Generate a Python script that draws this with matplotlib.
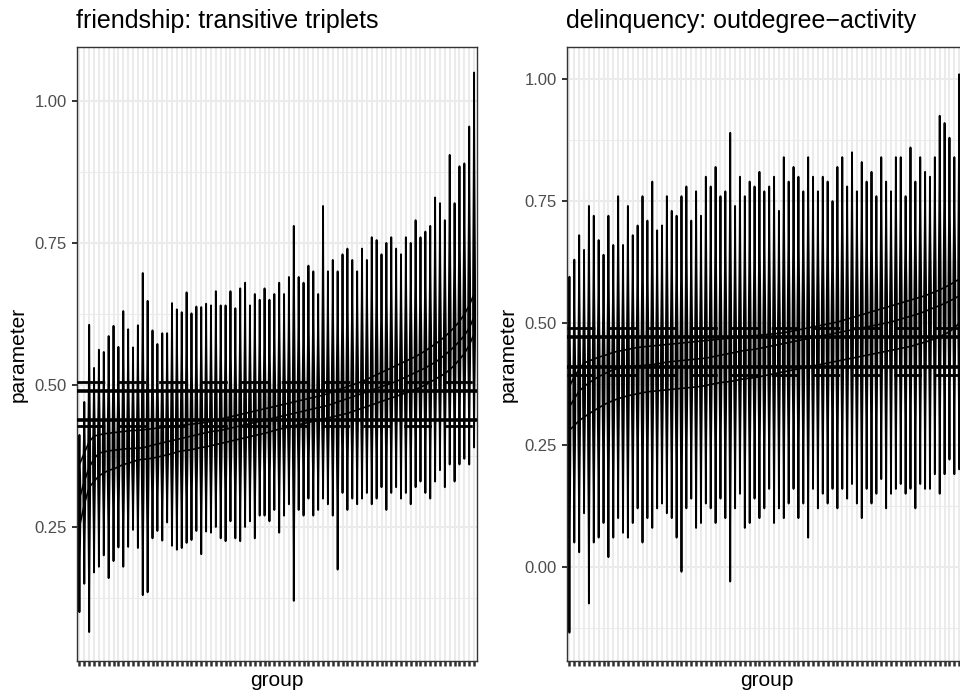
import numpy as np
import matplotlib
matplotlib.use("Agg")
import matplotlib.pyplot as plt
from matplotlib.ticker import FixedLocator, NullFormatter
from matplotlib.collections import PolyCollection

plt.rcParams['font.family'] = ['Liberation Sans', 'DejaVu Sans']

# ---------------- data ----------------
n_groups = 82
groups = list(range(n_groups))

fr_title = "friendship: transitive triplets"
fr_hi = [0.412, 0.47, 0.606, 0.53, 0.562, 0.558, 0.586, 0.604, 0.567, 0.630,
         0.598, 0.566, 0.605, 0.697, 0.648, 0.596, 0.572, 0.591, 0.591, 0.644,
         0.633, 0.628, 0.663, 0.626, 0.638, 0.637, 0.643, 0.64, 0.665, 0.64,
         0.64, 0.665, 0.635, 0.67, 0.68, 0.64, 0.66, 0.65, 0.67, 0.65,
         0.66, 0.68, 0.66, 0.69, 0.78, 0.69, 0.68, 0.71, 0.70, 0.66,
         0.815, 0.70, 0.72, 0.70, 0.73, 0.74, 0.72, 0.70, 0.74, 0.72,
         0.76, 0.755, 0.73, 0.75, 0.76, 0.74, 0.73, 0.76, 0.75, 0.79,
         0.76, 0.77, 0.78, 0.83, 0.82, 0.79, 0.905, 0.82, 0.885, 0.89,
         0.955, 1.05]
fr_lo = [0.10, 0.15, 0.065, 0.17, 0.18, 0.20, 0.16, 0.19, 0.214, 0.18,
         0.215, 0.245, 0.213, 0.13, 0.135, 0.23, 0.243, 0.226, 0.258, 0.217,
         0.21, 0.213, 0.222, 0.227, 0.243, 0.202, 0.242, 0.24, 0.25, 0.23,
         0.225, 0.26, 0.23, 0.225, 0.25, 0.26, 0.23, 0.27, 0.27, 0.26,
         0.28, 0.24, 0.27, 0.29, 0.12, 0.28, 0.27, 0.30, 0.27, 0.28,
         0.30, 0.29, 0.27, 0.175, 0.31, 0.28, 0.30, 0.29, 0.30, 0.31,
         0.29, 0.30, 0.32, 0.28, 0.31, 0.32, 0.30, 0.31, 0.29, 0.32,
         0.33, 0.31, 0.30, 0.33, 0.35, 0.32, 0.36, 0.33, 0.36, 0.37,
         0.36, 0.39]
fr_curve_a = [0.25, 0.29, 0.32, 0.33, 0.34, 0.345, 0.35, 0.352, 0.356, 0.36,
              0.362, 0.365, 0.368, 0.369, 0.37, 0.371, 0.373, 0.375, 0.377, 0.379,
              0.382, 0.384, 0.385, 0.386, 0.388, 0.39, 0.391, 0.393, 0.395, 0.397,
              0.399, 0.401, 0.403, 0.405, 0.407, 0.409, 0.411, 0.413, 0.415, 0.417,
              0.42, 0.422, 0.424, 0.426, 0.428, 0.43, 0.432, 0.434, 0.436, 0.438,
              0.44, 0.442, 0.444, 0.446, 0.448, 0.45, 0.453, 0.456, 0.459, 0.462,
              0.465, 0.468, 0.471, 0.474, 0.477, 0.48, 0.483, 0.486, 0.489, 0.492,
              0.496, 0.50, 0.505, 0.51, 0.515, 0.52, 0.527, 0.535, 0.545, 0.555,
              0.57, 0.59]
fr_mean = [0.30, 0.33, 0.355, 0.37, 0.38, 0.382, 0.384, 0.385, 0.386, 0.387,
           0.388, 0.388, 0.389, 0.389, 0.392, 0.394, 0.396, 0.398, 0.40, 0.402,
           0.404, 0.406, 0.408, 0.41, 0.412, 0.414, 0.416, 0.418, 0.419, 0.42,
           0.422, 0.424, 0.426, 0.428, 0.43, 0.432, 0.434, 0.436, 0.438, 0.44,
           0.442, 0.444, 0.446, 0.448, 0.45, 0.452, 0.454, 0.456, 0.458, 0.46,
           0.462, 0.464, 0.467, 0.47, 0.473, 0.476, 0.479, 0.482, 0.485, 0.488,
           0.491, 0.494, 0.497, 0.50, 0.503, 0.506, 0.51, 0.514, 0.518, 0.522,
           0.526, 0.53, 0.535, 0.54, 0.546, 0.553, 0.56, 0.568, 0.577, 0.587,
           0.60, 0.62]
fr_curve_c = [0.36, 0.38, 0.40, 0.41, 0.412, 0.414, 0.415, 0.416, 0.417, 0.418,
              0.419, 0.42, 0.42, 0.421, 0.422, 0.423, 0.424, 0.425, 0.426, 0.427,
              0.428, 0.429, 0.43, 0.431, 0.432, 0.433, 0.434, 0.436, 0.438, 0.44,
              0.442, 0.444, 0.446, 0.448, 0.45, 0.452, 0.454, 0.456, 0.458, 0.46,
              0.462, 0.464, 0.466, 0.468, 0.47, 0.472, 0.474, 0.476, 0.478, 0.48,
              0.482, 0.485, 0.488, 0.491, 0.494, 0.497, 0.50, 0.503, 0.506, 0.51,
              0.514, 0.518, 0.522, 0.526, 0.53, 0.534, 0.538, 0.542, 0.546, 0.55,
              0.555, 0.56, 0.566, 0.572, 0.578, 0.585, 0.593, 0.602, 0.612, 0.624,
              0.64, 0.66]
fr_solid = [0.489, 0.439]
fr_dashed = [0.506, 0.427]
fr_yticks = [0.25, 0.50, 0.75, 1.00]
fr_ylim = (0.014, 1.095)

de_title = "delinquency: outdegree\u2212activity"
de_hi = [0.595, 0.63, 0.68, 0.65, 0.74, 0.72, 0.67, 0.64, 0.72, 0.66,
         0.76, 0.66, 0.74, 0.68, 0.70, 0.76, 0.71, 0.79, 0.69, 0.70,
         0.76, 0.73, 0.72, 0.76, 0.78, 0.71, 0.77, 0.72, 0.80, 0.78,
         0.82, 0.76, 0.77, 0.89, 0.74, 0.80, 0.76, 0.79, 0.78, 0.81,
         0.77, 0.78, 0.80, 0.73, 0.84, 0.79, 0.82, 0.80, 0.77, 0.84,
         0.80, 0.77, 0.80, 0.79, 0.75, 0.82, 0.84, 0.78, 0.85, 0.77,
         0.83, 0.79, 0.81, 0.76, 0.84, 0.79, 0.77, 0.84, 0.84, 0.76,
         0.86, 0.79, 0.84, 0.81, 0.80, 0.84, 0.925, 0.91, 0.88, 0.84,
         1.01, 0.90]
de_lo = [-0.135, 0.05, 0.03, 0.11, -0.075, 0.05, 0.06, 0.09, 0.02, 0.06,
         0.10, 0.07, 0.06, 0.09, 0.12, 0.05, 0.10, 0.08, 0.12, 0.13,
         0.11, 0.10, 0.06, -0.01, 0.12, 0.14, 0.08, 0.09, 0.13, 0.12,
         0.09, 0.14, 0.10, -0.03, 0.12, 0.15, 0.08, 0.09, 0.14, 0.10,
         0.12, 0.16, 0.09, 0.12, 0.10, 0.13, 0.16, 0.10, 0.13, 0.06,
         0.16, 0.12, 0.15, 0.13, 0.16, 0.12, 0.16, 0.14, 0.17, 0.13,
         0.10, 0.16, 0.13, 0.15, 0.18, 0.12, 0.15, 0.16, 0.17, 0.15,
         0.16, 0.12, 0.17, 0.16, 0.16, 0.19, 0.15, 0.19, 0.22, 0.19,
         0.20, 0.22]
de_curve_a = [0.28, 0.29, 0.30, 0.307, 0.314, 0.32, 0.326, 0.332, 0.337, 0.341,
              0.345, 0.348, 0.351, 0.353, 0.355, 0.357, 0.359, 0.36, 0.361, 0.362,
              0.363, 0.364, 0.365, 0.366, 0.367, 0.368, 0.369, 0.37, 0.372, 0.374,
              0.376, 0.378, 0.379, 0.38, 0.382, 0.384, 0.386, 0.387, 0.388, 0.39,
              0.392, 0.394, 0.396, 0.398, 0.40, 0.402, 0.404, 0.406, 0.408, 0.41,
              0.412, 0.414, 0.416, 0.418, 0.42, 0.422, 0.424, 0.426, 0.428, 0.43,
              0.432, 0.434, 0.436, 0.438, 0.44, 0.442, 0.444, 0.446, 0.448, 0.45,
              0.452, 0.455, 0.458, 0.461, 0.464, 0.468, 0.472, 0.477, 0.482, 0.49,
              0.50, 0.51]
de_mean = [0.328, 0.345, 0.36, 0.37, 0.377, 0.384, 0.39, 0.395, 0.40, 0.404,
           0.407, 0.409, 0.41, 0.411, 0.412, 0.413, 0.414, 0.415, 0.416, 0.418,
           0.42, 0.421, 0.422, 0.423, 0.424, 0.425, 0.426, 0.427, 0.428, 0.43,
           0.432, 0.434, 0.436, 0.438, 0.44, 0.442, 0.444, 0.445, 0.446, 0.448,
           0.45, 0.452, 0.454, 0.456, 0.458, 0.46, 0.462, 0.464, 0.466, 0.468,
           0.47, 0.472, 0.474, 0.476, 0.478, 0.48, 0.482, 0.484, 0.486, 0.488,
           0.49, 0.492, 0.494, 0.496, 0.498, 0.50, 0.502, 0.505, 0.508, 0.511,
           0.514, 0.517, 0.52, 0.524, 0.528, 0.532, 0.536, 0.54, 0.545, 0.55,
           0.556, 0.562]
de_curve_c = [0.37, 0.39, 0.405, 0.418, 0.422, 0.426, 0.43, 0.433, 0.436, 0.44,
              0.442, 0.444, 0.446, 0.448, 0.45, 0.451, 0.452, 0.453, 0.454, 0.455,
              0.456, 0.457, 0.458, 0.459, 0.46, 0.461, 0.462, 0.463, 0.464, 0.465,
              0.466, 0.467, 0.468, 0.469, 0.47, 0.471, 0.472, 0.473, 0.474, 0.475,
              0.476, 0.477, 0.478, 0.479, 0.48, 0.482, 0.484, 0.486, 0.488, 0.49,
              0.492, 0.494, 0.496, 0.498, 0.50, 0.502, 0.505, 0.508, 0.511, 0.514,
              0.517, 0.52, 0.523, 0.526, 0.529, 0.532, 0.535, 0.538, 0.541, 0.544,
              0.547, 0.55, 0.553, 0.556, 0.56, 0.564, 0.568, 0.573, 0.578, 0.584,
              0.59, 0.60]
de_solid = [0.471, 0.409]
de_dashed = [0.490, 0.393]
de_yticks = [0.00, 0.25, 0.50, 0.75, 1.00]
de_ylim = (-0.193, 1.066)

# ---------------- drawing ----------------
W, H = 960, 693
fig = plt.figure(figsize=(W / 100, H / 100), dpi=100)

GRID = '#EBEBEB'
TXT = '#4D4D4D'
BORDER = '#333333'
HALF_W = 0.21   # max half-width of each violin, in group units


def violin_polys(lo, hi, mid):
    polys = []
    for g, a, b, m in zip(groups, lo, hi, mid):
        y = np.linspace(a, b, 80)
        s_lo = max(m - a, 1e-3) / 2.6
        s_hi = max(b - m, 1e-3) / 2.6
        s = np.where(y < m, s_lo, s_hi)
        w = HALF_W * np.exp(-0.5 * ((y - m) / s) ** 2)
        xs = np.concatenate([g - w, (g + w)[::-1]])
        ys = np.concatenate([y, y[::-1]])
        polys.append(np.column_stack([xs, ys]))
    return polys


def panel(x0, title, lo, hi, mid, curves, solid, dashed, yticks, ylim):
    top, bottom = 47, 661
    width = 400.5
    ax = fig.add_axes([x0 / W, 1 - bottom / H, width / W, (bottom - top) / H])
    ax.set_facecolor('white')
    ax.set_xlim(-0.6, n_groups - 1 + 0.6)
    ax.set_ylim(*ylim)
    ax.xaxis.set_major_locator(FixedLocator(groups))
    ax.yaxis.set_major_locator(FixedLocator(yticks))
    minors = [(yticks[k] + yticks[k + 1]) / 2 for k in range(len(yticks) - 1)]
    minors = [yticks[0] - 0.125] + minors + [yticks[-1] + 0.125]
    ax.yaxis.set_minor_locator(FixedLocator(minors))
    ax.grid(True, which='major', axis='both', color=GRID, lw=1.45, zorder=0)
    ax.grid(True, which='minor', axis='y', color=GRID, lw=0.75, zorder=0)
    ax.set_axisbelow(True)
    for c in curves:
        ax.plot(groups, c, color='black', lw=1.2, zorder=2)
    pc = PolyCollection(violin_polys(lo, hi, mid), facecolor='black',
                        edgecolor='black', linewidth=1.35, zorder=2.5)
    ax.add_collection(pc)
    for v in solid:
        ax.axhline(v, color='black', lw=2.6, zorder=3)
    for v in dashed:
        ax.axhline(v, color='black', lw=2.0, dashes=(10, 4.7), zorder=3)
    for s in ax.spines.values():
        s.set_color(BORDER)
        s.set_linewidth(1.0)
    ax.xaxis.set_major_formatter(NullFormatter())
    ax.tick_params(axis='x', which='major', length=3.8, width=1.8, color=BORDER)
    ax.tick_params(axis='y', which='major', length=3.8, width=1.4, color=BORDER,
                   labelsize=12, labelcolor=TXT, pad=3)
    ax.tick_params(axis='y', which='minor', length=0)
    ax.set_yticklabels(['%.2f' % t for t in yticks])
    cx = x0 + width / 2
    fig.text(cx / W, 1 - 681 / H, 'group', fontsize=15, ha='center', va='center')
    fig.text((x0 - 58.5) / W, 1 - 354 / H, 'parameter', fontsize=15,
             ha='center', va='center', rotation=90)
    fig.text(x0 / W, 1 - 21 / H, title, fontsize=18, ha='left', va='center')
    return ax


panel(76.5, fr_title, fr_lo, fr_hi, fr_mean,
      [fr_curve_a, fr_mean, fr_curve_c],
      fr_solid, fr_dashed, fr_yticks, fr_ylim)
panel(566.5, de_title, de_lo, de_hi, de_mean,
      [de_curve_a, de_mean, de_curve_c],
      de_solid, de_dashed, de_yticks, de_ylim)

fig.savefig('out.png', dpi=100)
